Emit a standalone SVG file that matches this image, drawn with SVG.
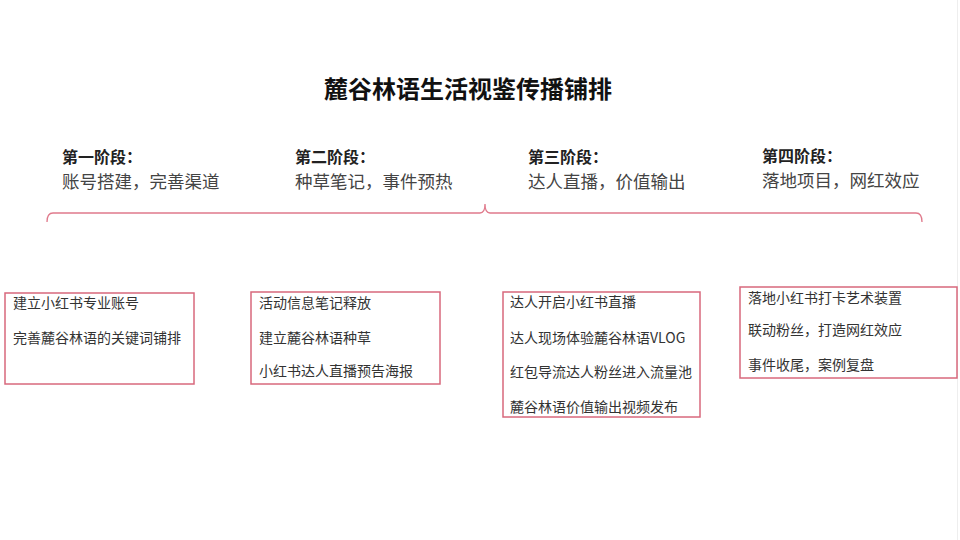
<svg xmlns="http://www.w3.org/2000/svg" width="960" height="540" viewBox="0 0 960 540">
<style>
text{font-family:"Noto Sans CJK SC","Liberation Sans",sans-serif;}
.title{font-size:24px;font-weight:bold;fill:#111;}
.sh{font-size:16px;font-weight:bold;fill:#222;}
.ss{font-size:17.5px;fill:#444;}
.bx{fill:#fff;stroke:#d8687c;stroke-width:1.5;}
.bt{font-size:14px;fill:#333;}
.br{fill:none;stroke:#e07a8c;stroke-width:1.3;}
</style>
<rect width="960" height="540" fill="#fff"/>
<line x1="957.5" y1="0" x2="957.5" y2="540" stroke="#eee" stroke-width="1"/>
<text class="title" x="468" y="98" text-anchor="middle">麓谷林语生活视鉴传播铺排</text>
<g id="stage1"><text class="sh" x="62" y="163">第一阶段：</text><text class="ss" x="62" y="188">账号搭建，完善渠道</text></g>
<g id="stage2"><text class="sh" x="295" y="163">第二阶段：</text><text class="ss" x="295" y="188">种草笔记，事件预热</text></g>
<g id="stage3"><text class="sh" x="528" y="163">第三阶段：</text><text class="ss" x="528" y="188">达人直播，价值输出</text></g>
<g id="stage4"><text class="sh" x="762" y="162">第四阶段：</text><text class="ss" x="762" y="187">落地项目，网红效应</text></g>
<g id="connectors">
<path class="br" d="M47,222 Q47,213 53,213 L480,213 Q485,213 485,204 Q485,213 490,213 L916,213 Q922,213 922,222"/>
</g>
<g id="box1"><rect class="bx" x="5" y="293" width="189" height="91"/>
<text class="bt" x="13" y="308">建立小红书专业账号</text>
<text class="bt" x="13" y="343">完善麓谷林语的关键词铺排</text></g>
<g id="box2"><rect class="bx" x="251" y="292" width="189" height="92"/>
<text class="bt" x="259" y="308">活动信息笔记释放</text>
<text class="bt" x="259" y="343">建立麓谷林语种草</text>
<text class="bt" x="259" y="376">小红书达人直播预告海报</text></g>
<g id="box3"><rect class="bx" x="503" y="292" width="197" height="125"/>
<text class="bt" x="510" y="307">达人开启小红书直播</text>
<text class="bt" x="510" y="343">达人现场体验麓谷林语VLOG</text>
<text class="bt" x="510" y="377">红包导流达人粉丝进入流量池</text>
<text class="bt" x="510" y="412">麓谷林语价值输出视频发布</text></g>
<g id="box4"><rect class="bx" x="740" y="287" width="217" height="91"/>
<text class="bt" x="748" y="303">落地小红书打卡艺术装置</text>
<text class="bt" x="748" y="335">联动粉丝，打造网红效应</text>
<text class="bt" x="748" y="370">事件收尾，案例复盘</text></g>
</svg>
